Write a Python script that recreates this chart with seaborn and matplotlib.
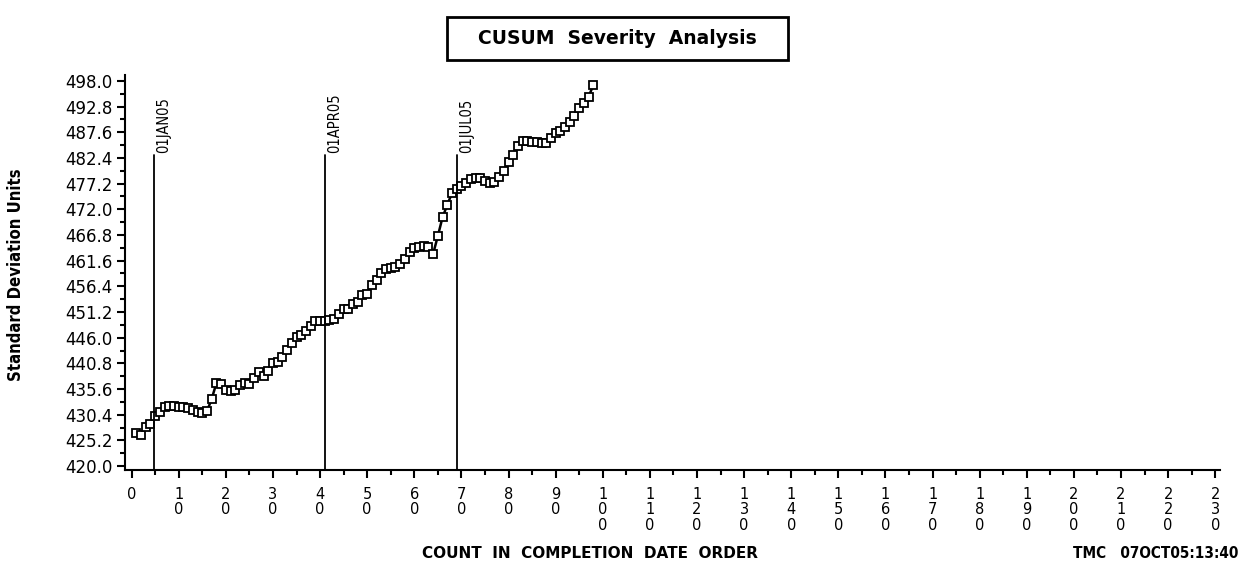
import matplotlib
matplotlib.use("Agg")
import matplotlib.pyplot as plt
import seaborn as sns
import pandas as pd
from matplotlib.patches import Rectangle

# ---------------- data ----------------
count = list(range(1, 99))
cusum = [426.7, 426.2, 427.9, 428.5, 430.1, 430.9, 431.9, 432.2, 432.1, 432.0,
         431.9, 431.7, 431.3, 431.0, 430.8, 431.1, 433.6, 436.8, 436.6, 435.5,
         435.2, 435.4, 436.4, 436.8, 436.6, 437.9, 439.0, 438.2, 439.2, 440.9,
         441.1, 442.1, 443.5, 444.9, 446.1, 446.5, 447.4, 448.4, 449.4, 449.4,
         449.4, 449.6, 449.8, 450.8, 451.8, 451.8, 452.8, 453.2, 454.6, 454.8,
         456.7, 457.7, 459.1, 459.9, 460.1, 460.3, 460.9, 461.9, 463.4, 464.2,
         464.4, 464.6, 464.4, 463.0, 466.6, 470.4, 472.9, 475.3, 476.1, 476.7,
         477.3, 478.1, 478.3, 478.3, 477.7, 477.3, 477.5, 478.6, 479.8, 481.6,
         483.0, 484.8, 485.8, 485.8, 485.6, 485.6, 485.4, 485.4, 486.5, 487.5,
         487.9, 488.7, 489.7, 490.9, 492.5, 493.5, 494.8, 497.2]

ref_pos = [4.7, 41.0, 69.0]
ref_labels = ["01JAN05", "01APR05", "01JUL05"]
ref_top = 483.0

y_ticks = [420.0, 425.2, 430.4, 435.6, 440.8, 446.0, 451.2, 456.4,
           461.6, 466.8, 472.0, 477.2, 482.4, 487.6, 492.8, 498.0]
x_ticks = list(range(0, 240, 10))

title = "CUSUM  Severity  Analysis"
x_label = "COUNT  IN  COMPLETION  DATE  ORDER"
y_label = "Standard Deviation Units"
stamp = "TMC   07OCT05:13:40"

df = pd.DataFrame({"count": count, "cusum": cusum})

# ---------------- style ----------------
sns.set_style("ticks")
plt.rcParams["font.family"] = ["DejaVu Sans"]
plt.rcParams["text.color"] = "black"
plt.rcParams["axes.labelcolor"] = "black"
plt.rcParams["xtick.color"] = "black"
plt.rcParams["ytick.color"] = "black"

fig = plt.figure(figsize=(12.41, 5.72), dpi=100)
ax = fig.add_axes([125 / 1241, 1 - 470 / 572, (1220 - 125) / 1241, (470 - 75) / 572])

sns.lineplot(data=df, x="count", y="cusum", ax=ax, color="black", lw=1.8,
             marker="s", markersize=5.5, markerfacecolor="white",
             markeredgecolor="black", markeredgewidth=1.3)

for p, lab in zip(ref_pos, ref_labels):
    ax.plot([p, p], [419.2, ref_top], color="black", lw=1.3)
    ax.text(p + 0.5, ref_top + 0.4, lab, rotation=90, ha="left", va="bottom",
            fontsize=10.5, fontstretch="condensed", color="black",
            family=["Liberation Sans Narrow", "DejaVu Sans"])

ax.set_xlim(-1.4, 231)
ax.set_ylim(419.2, 499.2)
ax.set_xticks(x_ticks)
ax.set_xticklabels(["\n".join(str(v)) for v in x_ticks], fontsize=10.5,
                   linespacing=1.05, va="top")
ax.set_xticks(list(range(5, 235, 10)), minor=True)
ax.set_yticks(y_ticks)
ax.set_yticklabels([f"{v:.1f}" for v in y_ticks], fontsize=12)
ax.set_yticks([v + 2.6 for v in y_ticks[:-1]], minor=True)

ax.tick_params(axis="both", which="major", length=6, width=1.5, color="black",
               labelcolor="black")
ax.tick_params(axis="both", which="minor", length=3.5, width=1.5, color="black")
ax.tick_params(axis="x", which="major", pad=6)
ax.tick_params(axis="y", which="major", pad=3)

for s in ["top", "right"]:
    ax.spines[s].set_visible(False)
for s in ["left", "bottom"]:
    ax.spines[s].set_linewidth(1.5)
    ax.spines[s].set_color("black")

ax.set_xlabel("")
ax.set_ylabel("")

# title box
fig.patches.append(Rectangle((447 / 1241, 1 - 60 / 572), (788 - 447) / 1241,
                             (60 - 17) / 572, transform=fig.transFigure,
                             fill=False, edgecolor="black", lw=2))
fig.text(617 / 1241, 1 - 38.5 / 572, title, ha="center", va="center",
         fontsize=13.5, fontweight="bold", color="black")

fig.text(590 / 1241, 1 - 553 / 572, x_label, ha="center", va="center",
         fontsize=11, fontweight="bold", color="black")
fig.text(1238 / 1241, 1 - 553 / 572, stamp, ha="right", va="center",
         fontsize=11, fontweight="bold", fontstretch="condensed", color="black",
         family=["Liberation Sans Narrow", "DejaVu Sans"])
fig.text(16 / 1241, 1 - 275 / 572, y_label, ha="center", va="center",
         rotation=90, fontsize=12, fontweight="bold", fontstretch="condensed",
         color="black", family=["Liberation Sans Narrow", "DejaVu Sans"])

fig.savefig("out.png", dpi=100)
